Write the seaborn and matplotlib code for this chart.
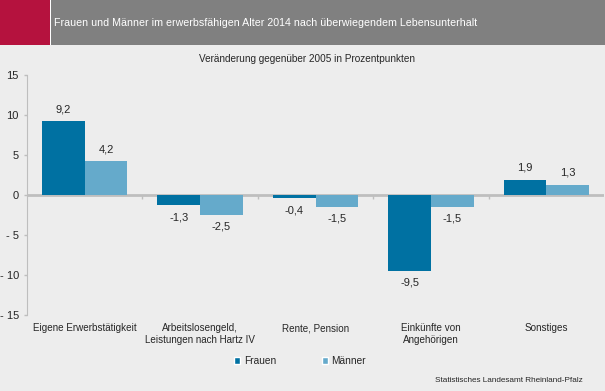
import matplotlib
matplotlib.use("Agg")
import matplotlib.pyplot as plt
from matplotlib.patches import Rectangle
import seaborn as sns
import pandas as pd

categories = ["Eigene Erwerbstätigkeit", "Arbeitslosengeld,\nLeistungen nach Hartz IV",
              "Rente, Pension", "Einkünfte von\nAngehörigen", "Sonstiges"]
frauen = [9.2, -1.3, -0.4, -9.5, 1.9]
maenner = [4.2, -2.5, -1.5, -1.5, 1.3]
series = ["Frauen", "Männer"]
colors = ["#0071A2", "#65AACB"]
yticks = [-15, -10, -5, 0, 5, 10, 15]

title = "Frauen und Männer im erwerbsfähigen Alter 2014 nach überwiegendem Lebensunterhalt"
subtitle = "Veränderung gegenüber 2005 in Prozentpunkten"
source = "Statistisches Landesamt Rheinland-Pfalz"

df = pd.DataFrame({
    "Kategorie": categories * 2,
    "Wert": frauen + maenner,
    "Geschlecht": [series[0]] * len(categories) + [series[1]] * len(categories),
})

sns.set_style("white")
plt.rcParams["font.family"] = ["Liberation Sans", "DejaVu Sans"]
bg = "#EDEDED"
W, H = 605, 391
fig = plt.figure(figsize=(W / 100, H / 100), dpi=100, facecolor=bg)

# header band
hh = 45
fig.patches.append(Rectangle((0, 1 - hh / H), 1, hh / H, transform=fig.transFigure,
                             facecolor="#808080", edgecolor="none", zorder=0))
fig.patches.append(Rectangle((0, 1 - hh / H), 50 / W, hh / H, transform=fig.transFigure,
                             facecolor="#B5123E", edgecolor="none", zorder=1))
fig.patches.append(Rectangle((50 / W, 1 - hh / H), 1 / W, hh / H, transform=fig.transFigure,
                             facecolor="white", edgecolor="none", zorder=1))
fig.text(54 / W, 1 - 23 / H, title, color="white", fontsize=7.7, va="center", ha="left")

ax = fig.add_axes([27 / W, 1 - 315 / H, 577 / W, 240 / H])
ax.set_facecolor(bg)
sns.barplot(data=df, x="Kategorie", y="Wert", hue="Geschlecht", palette=colors,
            width=0.74, saturation=1, linewidth=0, ax=ax, legend=False)
ax.set_ylim(-15, 15)
ax.set_xlim(-0.5, len(categories) - 0.5)
ax.set_yticks(yticks)
ax.set_yticklabels([str(t) if t >= 0 else "- " + str(-t) for t in yticks], fontsize=8)
ax.set_xticks(range(len(categories)))
ax.set_xticklabels(categories, fontsize=7.1, linespacing=1.15)
ax.tick_params(axis="x", length=0, pad=6)
ax.tick_params(axis="y", length=2.2, width=1, color="#BEBEBE", pad=3.6, left=True)
ax.set_xlabel("")
ax.set_ylabel("")
for s in ["top", "right", "bottom"]:
    ax.spines[s].set_visible(False)
ax.spines["left"].set_color("#BEBEBE")
ax.axhline(0, color="#BEBEBE", lw=2, zorder=0.5)
ax.vlines([i + 0.5 for i in range(len(categories) - 1)], -0.45, 0, color="#BEBEBE", lw=1)

for cont, vals in zip(ax.containers, [frauen, maenner]):
    labels = [("%.1f" % v).replace(".", ",") for v in vals]
    ax.bar_label(cont, labels=labels, padding=5, fontsize=8)

ax.set_title(subtitle, fontsize=7.2, pad=9)
ax.title.set_position((0.485, 1))

handles = [Rectangle((0, 0), 1, 1, facecolor=c) for c in colors]
fig.legend(handles, series, loc="center", bbox_to_anchor=(300 / W, 1 - 361 / H), ncol=2,
           frameon=False, fontsize=7.3, handlelength=0.6, handleheight=0.6,
           handletextpad=0.35, columnspacing=4.5)
fig.text(583 / W, 1 - 381 / H, source, fontsize=5.9, ha="right", va="center")

fig.savefig("out.png", dpi=100, facecolor=bg)
